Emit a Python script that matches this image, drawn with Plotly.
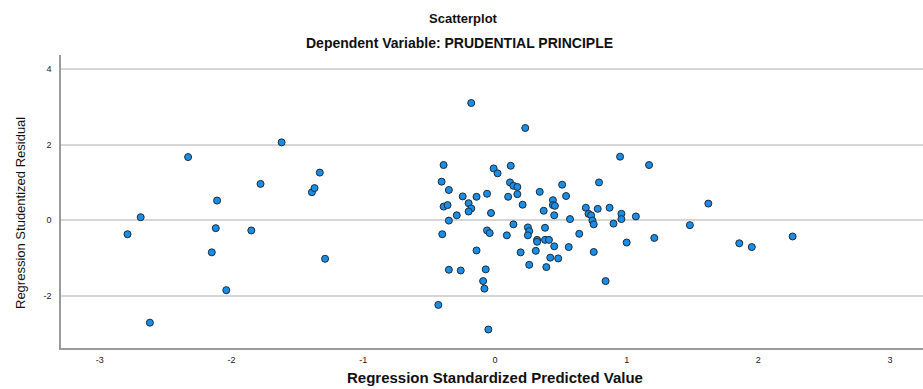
import plotly.graph_objects as go

# Regression Standardized Predicted Value
pred = [-2.79, -2.69, -2.62, -2.33, -2.11, -2.12, -2.15, -2.04, -1.85, -1.78,
        -1.62, -1.39, -1.37, -1.33, -1.29,
        -0.39, -0.405, -0.35, -0.39, -0.36, -0.35, -0.40, -0.35, -0.43, -0.29,
        -0.18, 0.23, -0.01, 0.12, 0.02, 0.114, 0.14, 0.17, 0.51, 0.79,
        0.95, 1.17, -0.245, -0.14, -0.06, 0.10, 0.17, 0.34, 0.44, 0.54,
        -0.20, -0.18, -0.20, 0.21, 0.44, 0.455, 0.37, 0.45, 0.57, 0.69,
        0.78, 0.87, 0.71, 0.73, 0.74, 0.75, 0.96, 0.96, 1.07, 0.90,
        -0.03, -0.06, -0.04, 0.14, 0.25, 0.26, 0.25, 0.38, 0.09, 0.32,
        0.32, 0.38, 0.41, 0.64, 0.45, 0.56, 1.00, 1.21, -0.14, 0.195,
        0.31, 0.75, 0.42, 0.48, 0.26, 0.39, -0.26, -0.07, -0.09, -0.08,
        0.84, -0.05, 1.48, 1.62, 1.855, 1.95, 2.26]

# Regression Studentized Residual
resid = [-0.37, 0.08, -2.71, 1.67, 0.52, -0.21, -0.85, -1.85, -0.27, 0.96,
         2.06, 0.74, 0.85, 1.26, -1.02,
         1.46, 1.02, 0.80, 0.36, 0.40, -0.01, -0.37, -1.31, -2.24, 0.13,
         3.10, 2.44, 1.37, 1.44, 1.24, 1.00, 0.91, 0.88, 0.94, 1.00,
         1.68, 1.46, 0.63, 0.62, 0.70, 0.62, 0.69, 0.75, 0.53, 0.64,
         0.45, 0.31, 0.23, 0.41, 0.40, 0.38, 0.25, 0.13, 0.03, 0.33,
         0.30, 0.33, 0.17, 0.13, -0.01, -0.11, 0.17, 0.03, 0.10, -0.09,
         0.19, -0.27, -0.34, -0.11, -0.19, -0.29, -0.40, -0.20, -0.40, -0.52,
         -0.57, -0.52, -0.52, -0.36, -0.69, -0.71, -0.59, -0.47, -0.80, -0.85,
         -0.81, -0.84, -0.99, -1.01, -1.18, -1.24, -1.33, -1.30, -1.61, -1.81,
         -1.61, -2.89, -0.13, 0.44, -0.61, -0.71, -0.43]

x_ticks = [-3, -2, -1, 0, 1, 2, 3]
y_ticks = [-2, 0, 2, 4]

W, H = 923, 389
L, R, T, B = 61, 0, 55, 41
PW, PH = W - L - R, H - T - B


def px_x(px):
    return (px - L) / PW


def px_y(py):
    return (H - B - py) / PH


fig = go.Figure()
fig.add_trace(go.Scatter(
    x=pred, y=resid, mode="markers",
    marker=dict(size=7, color="#1a8ee6", line=dict(color="#1c2b3a", width=1)),
    hoverinfo="x+y", showlegend=False,
))

fig.update_layout(
    width=W, height=H,
    margin=dict(l=L, r=R, t=T, b=B),
    paper_bgcolor="white", plot_bgcolor="white",
    font=dict(family="Liberation Sans, Arial, sans-serif", color="#222222"),
    xaxis=dict(
        range=[-3.295, 3.25], tickvals=x_ticks, ticktext=[str(v) for v in x_ticks],
        showgrid=False, zeroline=False, showline=True, linecolor="#9a9a9a", linewidth=1.5,
        tickfont=dict(size=9, color="#222222"), ticks="", ticklen=0,
        ticklabelstandoff=2,
    ),
    yaxis=dict(
        range=[-3.38, 4.37], tickvals=y_ticks, ticktext=[str(v) for v in y_ticks],
        showgrid=True, gridcolor="#d6d6d6", gridwidth=1.5,
        zeroline=False, showline=True, linecolor="#9a9a9a", linewidth=1.5,
        tickfont=dict(size=9, color="#222222"), ticks="", ticklen=0,
        ticklabelstandoff=6,
    ),
    annotations=[
        dict(text="<b>Scatterplot</b>", x=px_x(463), y=px_y(19),
             xref="paper", yref="paper", xanchor="center", yanchor="middle",
             showarrow=False, font=dict(size=13, color="#111111")),
        dict(text="<b>Dependent Variable: PRUDENTIAL PRINCIPLE</b>", x=px_x(459), y=px_y(43),
             xref="paper", yref="paper", xanchor="center", yanchor="middle",
             showarrow=False, font=dict(size=14, color="#111111")),
        dict(text="<b>Regression Standardized Predicted Value</b>", x=px_x(495), y=px_y(377),
             xref="paper", yref="paper", xanchor="center", yanchor="middle",
             showarrow=False, font=dict(size=15, color="#111111")),
        dict(text="Regression Studentized Residual", x=px_x(20), y=px_y(213),
             xref="paper", yref="paper", xanchor="center", yanchor="middle",
             textangle=-90, showarrow=False,
             font=dict(size=13, color="#111111")),
    ],
)

fig.write_html("out.html", config={"displayModeBar": False},
               post_script="document.body.style.margin='0px';")
